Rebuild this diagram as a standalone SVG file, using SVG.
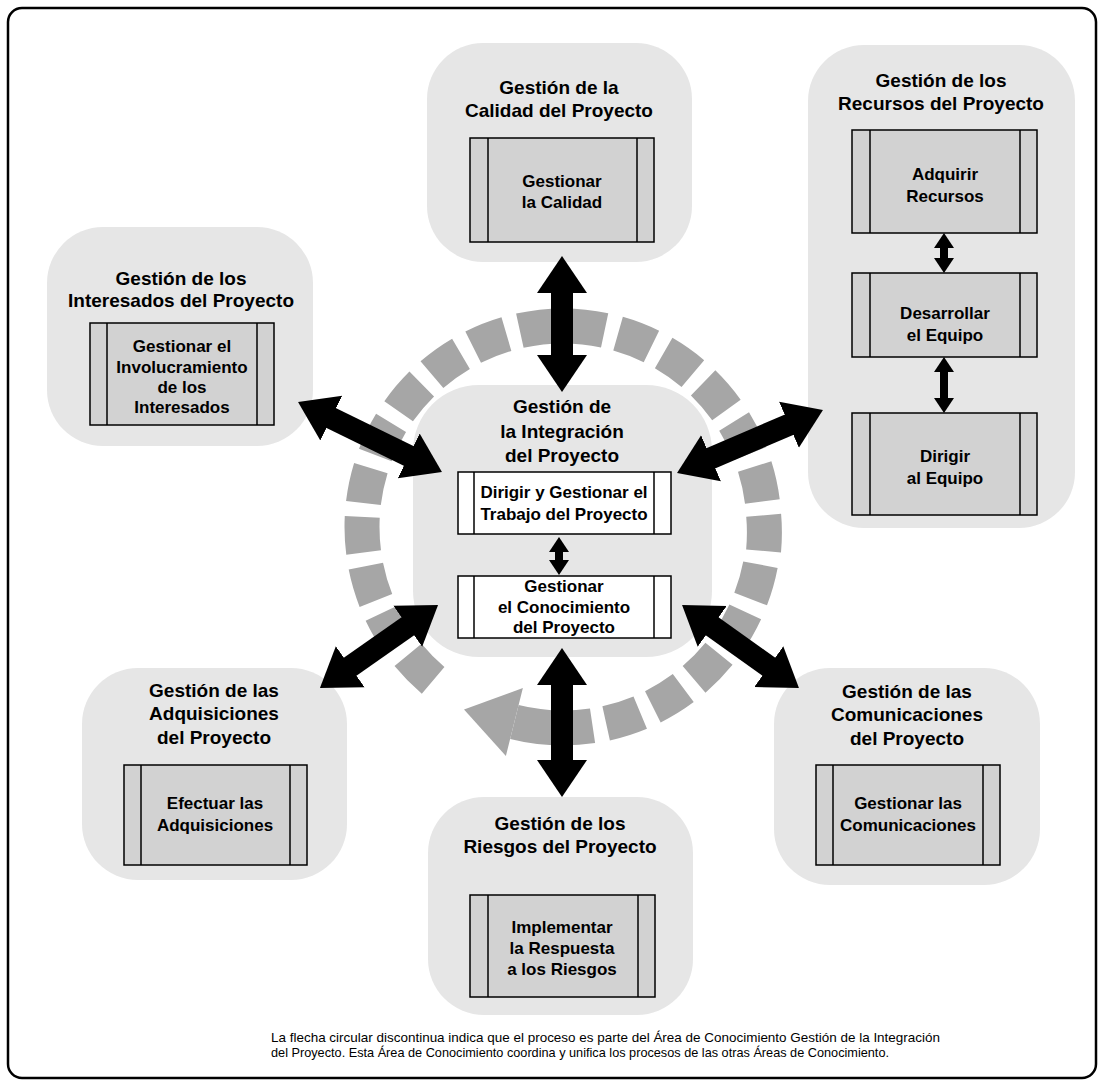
<svg xmlns="http://www.w3.org/2000/svg" width="1104" height="1086" viewBox="0 0 1104 1086">
<style>
.area{fill:#e6e6e6;stroke:none}
.proc{fill:#d2d2d2;stroke:#000;stroke-width:1.5}
.procw{fill:#fff;stroke:#000;stroke-width:1.5}
.bar{stroke:#000;stroke-width:1.5}
.t{font-family:"Liberation Sans",Arial,sans-serif;font-weight:bold;font-size:19px;fill:#000;text-anchor:middle}
.p{font-family:"Liberation Sans",Arial,sans-serif;font-weight:bold;font-size:17px;fill:#000;text-anchor:middle}
.cap{font-family:"Liberation Sans",Arial,sans-serif;font-size:13px;fill:#000}
.big{stroke:#000;stroke-width:22;fill:none;marker-start:url(#hb);marker-end:url(#hb)}
.small{stroke:#000;stroke-width:8;fill:none;marker-start:url(#hs);marker-end:url(#hs)}
.ring{fill:none;stroke:#a6a6a6;stroke-width:35;stroke-linecap:butt}
</style>
<defs>
<marker id="hb" markerUnits="userSpaceOnUse" markerWidth="40" markerHeight="54" viewBox="-1 -27 40 54" refX="0" refY="0" orient="auto-start-reverse">
<polygon points="-1,-25 36,0 -1,25" fill="#000"/>
</marker>
<marker id="hs" markerUnits="userSpaceOnUse" markerWidth="16" markerHeight="22" viewBox="-1 -11 16 22" refX="0" refY="0" orient="auto-start-reverse">
<polygon points="-1,-10 14,0 -1,10" fill="#000"/>
</marker>
</defs>
<rect x="8" y="8" width="1088" height="1070" rx="14" fill="#fff" stroke="#000" stroke-width="2.5"/>

<g id="calidad">
<rect class="area" x="427" y="43" width="265" height="219" rx="56"/>
<text class="t" x="559" y="94">Gestión de la</text>
<text class="t" x="559" y="117">Calidad del Proyecto</text>
<rect class="proc" x="470" y="138" width="184" height="104"/>
<line class="bar" x1="488" y1="138" x2="488" y2="242"/><line class="bar" x1="637" y1="138" x2="637" y2="242"/>
<text class="p" x="562" y="187">Gestionar</text>
<text class="p" x="562" y="208">la Calidad</text>
</g>

<g id="recursos">
<rect class="area" x="808" y="45" width="267" height="483" rx="56"/>
<text class="t" x="941" y="87">Gestión de los</text>
<text class="t" x="941" y="110">Recursos del Proyecto</text>
<rect class="proc" x="852" y="130" width="185" height="103"/>
<line class="bar" x1="870" y1="130" x2="870" y2="233"/><line class="bar" x1="1020" y1="130" x2="1020" y2="233"/>
<text class="p" x="945" y="180">Adquirir</text>
<text class="p" x="945" y="202">Recursos</text>
<rect class="proc" x="852" y="273" width="185" height="84"/>
<line class="bar" x1="870" y1="273" x2="870" y2="357"/><line class="bar" x1="1020" y1="273" x2="1020" y2="357"/>
<text class="p" x="945" y="319">Desarrollar</text>
<text class="p" x="945" y="341">el Equipo</text>
<rect class="proc" x="852" y="413" width="185" height="102"/>
<line class="bar" x1="870" y1="413" x2="870" y2="515"/><line class="bar" x1="1020" y1="413" x2="1020" y2="515"/>
<text class="p" x="945" y="462">Dirigir</text>
<text class="p" x="945" y="484">al Equipo</text>
</g>

<g id="interesados">
<rect class="area" x="47" y="227" width="266" height="219" rx="56"/>
<text class="t" x="181" y="285">Gestión de los</text>
<text class="t" x="181" y="307">Interesados del Proyecto</text>
<rect class="proc" x="90" y="323" width="184" height="102"/>
<line class="bar" x1="107" y1="323" x2="107" y2="425"/><line class="bar" x1="257" y1="323" x2="257" y2="425"/>
<text class="p" x="182" y="352">Gestionar el</text>
<text class="p" x="182" y="373">Involucramiento</text>
<text class="p" x="182" y="393">de los</text>
<text class="p" x="182" y="413">Interesados</text>
</g>

<g id="adquisiciones">
<rect class="area" x="82" y="668" width="265" height="212" rx="56"/>
<text class="t" x="214" y="697">Gestión de las</text>
<text class="t" x="214" y="720">Adquisiciones</text>
<text class="t" x="214" y="744">del Proyecto</text>
<rect class="proc" x="124" y="765" width="183" height="100"/>
<line class="bar" x1="141" y1="765" x2="141" y2="865"/><line class="bar" x1="290" y1="765" x2="290" y2="865"/>
<text class="p" x="215" y="809">Efectuar las</text>
<text class="p" x="215" y="831">Adquisiciones</text>
</g>

<g id="riesgos">
<rect class="area" x="428" y="797" width="265" height="218" rx="56"/>
<text class="t" x="560" y="830">Gestión de los</text>
<text class="t" x="560" y="853">Riesgos del Proyecto</text>
<rect class="proc" x="470" y="895" width="185" height="102"/>
<line class="bar" x1="488" y1="895" x2="488" y2="997"/><line class="bar" x1="638" y1="895" x2="638" y2="997"/>
<text class="p" x="562" y="933">Implementar</text>
<text class="p" x="562" y="954">la Respuesta</text>
<text class="p" x="562" y="975">a los Riesgos</text>
</g>

<g id="comunicaciones">
<rect class="area" x="774" y="668" width="266" height="217" rx="56"/>
<text class="t" x="907" y="698">Gestión de las</text>
<text class="t" x="907" y="721">Comunicaciones</text>
<text class="t" x="907" y="745">del Proyecto</text>
<rect class="proc" x="816" y="765" width="184" height="100"/>
<line class="bar" x1="833" y1="765" x2="833" y2="865"/><line class="bar" x1="983" y1="765" x2="983" y2="865"/>
<text class="p" x="908" y="809">Gestionar las</text>
<text class="p" x="908" y="831">Comunicaciones</text>
</g>

<g id="ciclo">
<path class="ring" d="M433.13 680.40 A201 201 0 0 1 408.03 654.98 M399.57 644.00 A201 201 0 0 1 381.44 613.21 M375.91 600.51 A201 201 0 0 1 365.86 566.21 M363.63 552.55 A201 201 0 0 1 362.26 516.83 M363.43 503.02 A201 201 0 0 1 370.84 468.07 M375.35 454.96 A201 201 0 0 1 391.06 422.88 M398.64 411.28 A201 201 0 0 1 421.74 384.01 M431.93 374.62 A201 201 0 0 1 460.99 353.82 M473.15 347.21 A201 201 0 0 1 506.42 334.12 M519.85 330.68 A201 201 0 0 1 604.63 330.36 M618.07 333.70 A201 201 0 0 1 651.42 346.50 M663.66 353.01 A201 201 0 0 1 692.87 373.60 M703.14 382.90 A201 201 0 0 1 726.43 410.00 M734.11 421.54 A201 201 0 0 1 750.09 453.49 M754.69 466.56 A201 201 0 0 1 762.37 501.45 M763.66 515.26 A201 201 0 0 1 763.57 550.98 M760.44 564.67 A201 201 0 0 1 750.65 599.04 M745.25 611.78 A201 201 0 0 1 727.36 642.72 M718.98 653.77 A201 201 0 0 1 694.07 679.38 M683.26 688.06 A201 201 0 0 1 652.85 706.79 M640.24 712.56 A201 201 0 0 1 606.15 723.32 M592.55 725.81 A201 201 0 0 1 514.38 722.03"/>
<polygon points="464.0,709.4 522.9,688.0 505.9,756.0" fill="#a6a6a6"/>
</g>

<g id="integracion">
<rect class="area" x="413" y="385" width="299" height="272" rx="66"/>
<text class="t" x="562" y="413">Gestión de</text>
<text class="t" x="562" y="438">la Integración</text>
<text class="t" x="562" y="462">del Proyecto</text>
<rect class="procw" x="458" y="472" width="213" height="62"/>
<line class="bar" x1="474" y1="472" x2="474" y2="534"/><line class="bar" x1="654" y1="472" x2="654" y2="534"/>
<text class="p" x="564" y="498">Dirigir y Gestionar el</text>
<text class="p" x="564" y="520">Trabajo del Proyecto</text>
<rect class="procw" x="458" y="576" width="213" height="62"/>
<line class="bar" x1="474" y1="576" x2="474" y2="638"/><line class="bar" x1="654" y1="576" x2="654" y2="638"/>
<text class="p" x="564" y="592">Gestionar</text>
<text class="p" x="564" y="613">el Conocimiento</text>
<text class="p" x="564" y="633">del Proyecto</text>
</g>

<g id="conectores">
<line class="big" x1="562" y1="292" x2="562" y2="356"/>
<line class="big" x1="562" y1="684" x2="562" y2="761"/>
<line class="big" x1="330.4" y1="417.7" x2="409.6" y2="456.3"/>
<line class="big" x1="710.1" y1="458.7" x2="789.9" y2="424.3"/>
<line class="big" x1="349.4" y1="667.3" x2="408.6" y2="625.7"/>
<line class="big" x1="711.4" y1="625.8" x2="769.6" y2="667.2"/>
<line class="small" x1="559" y1="551" x2="559" y2="561"/>
<line class="small" x1="944" y1="247" x2="944" y2="259"/>
<line class="small" x1="944" y1="371" x2="944" y2="399"/>
</g>

<g id="nota">
<text class="cap" x="271" y="1042" textLength="669" lengthAdjust="spacingAndGlyphs">La flecha circular discontinua indica que el proceso es parte del Área de Conocimiento Gestión de la Integración</text>
<text class="cap" x="271" y="1057" textLength="618" lengthAdjust="spacingAndGlyphs">del Proyecto. Esta Área de Conocimiento coordina y unifica los procesos de las otras Áreas de Conocimiento.</text>
</g>
</svg>
